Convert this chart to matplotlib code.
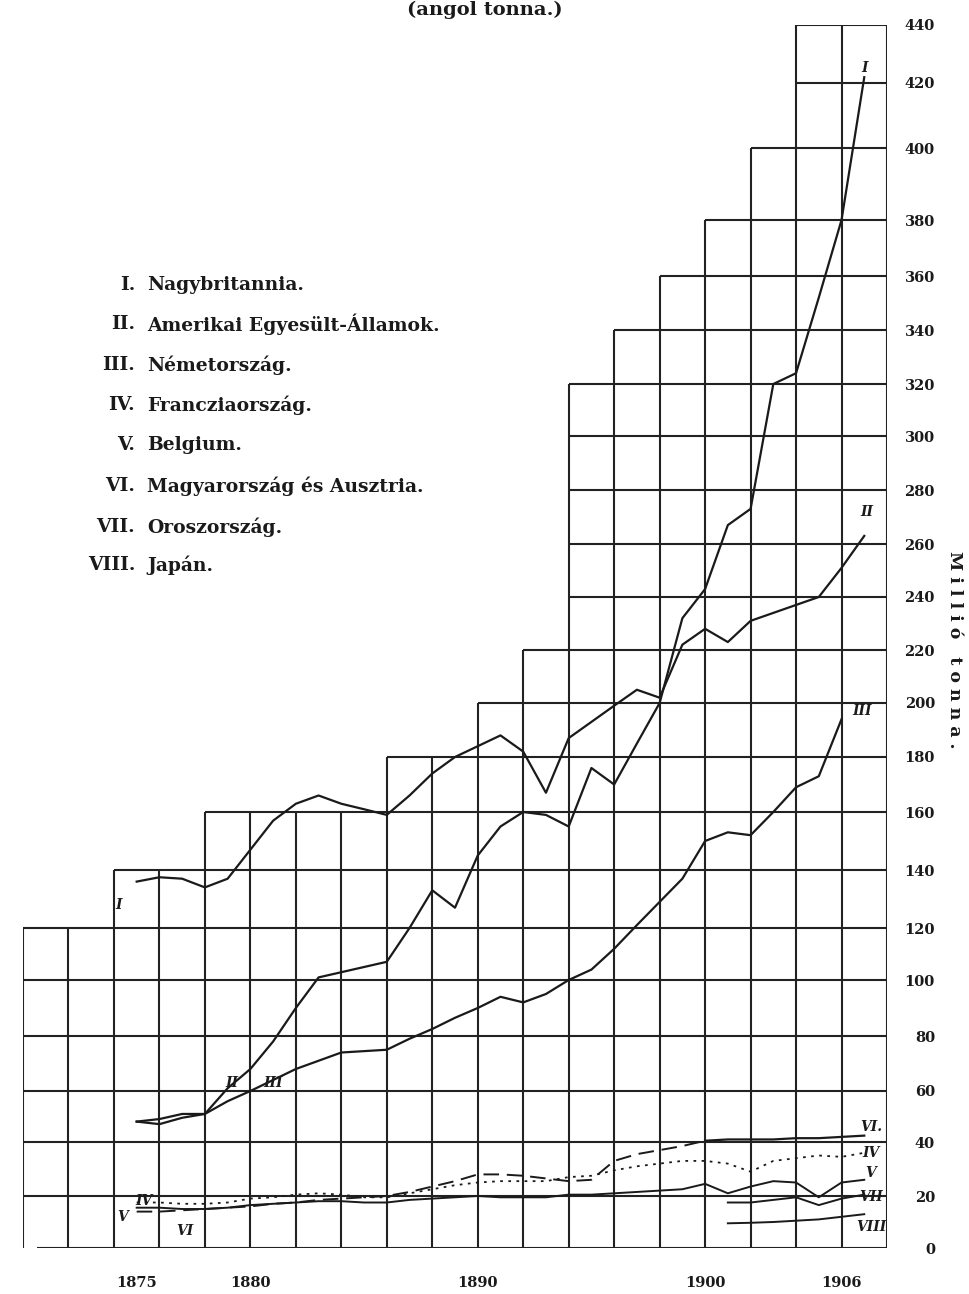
import numpy as np
import matplotlib.pyplot as plt

# coal output, million tonnes
years = list(range(1875, 1908))
britain = [136, 137.5, 137, 134, 137, 147, 157, 163, 166, 163, 161, 159, 166, 174,
           180, 184, 188, 182, 167, 187, 193, 199, 205, 202, 222, 228, 223, 231,
           234, 237, 240, 251, 263]
usa = [48, 49, 51, 51, 61, 68, 78, 90, 101, 103, 105, 107, 120, 133, 127, 145,
       155, 160, 159, 155, 176, 170, 185, 200, 232, 243, 267, 273, 320, 324, 352,
       380, 422]
germany_years = list(range(1875, 1907))
germany = [48, 47, 49.5, 51, 56, 60, 64, 68, 71, 74, 74.5, 75, 79, 82.5, 86.5, 90,
           94, 92, 95, 100, 104, 112, 121, 129, 137, 150, 153, 152, 160, 169, 173,
           194]
france = [17.5, 17.5, 17, 17, 17.5, 19, 19.5, 20.5, 21, 20.5, 19.5, 19.5, 21, 22.5,
          24, 25, 25.5, 25.5, 25.5, 27, 27.5, 29.5, 31, 32, 33, 33, 32, 29, 33, 34,
          35, 34.5, 36]
belgium = [15.5, 15.5, 15, 15, 15.5, 16.5, 17, 17.5, 18, 18, 17.5, 17.5, 18.5, 19,
           19.5, 20, 19.5, 19.5, 19.5, 20.5, 20.5, 21, 21.5, 22, 22.5, 24.5, 21,
           23.5, 25.5, 25, 19.5, 25, 26]
austria = [14, 14, 14.5, 15, 15.5, 16, 17, 17.5, 18.5, 19, 19.5, 20, 21.5, 23.5,
           25.5, 28, 28, 27.5, 26.5, 25.5, 26, 33, 35.5, 37, 38.5, 40.5, 41, 41, 41,
           41.5, 41.5, 42, 42.5]
late_years = list(range(1901, 1908))
russia = [17.5, 17.5, 18.5, 19.5, 16.5, 19, 20.5]
japan = [9.5, 9.7, 10, 10.5, 11, 12, 13]

legend_nums = ["I.", "II.", "III.", "IV.", "V.", "VI.", "VII.", "VIII."]
legend_names = ["Nagybritannia.", "Amerikai Egyesült-Államok.", "Németország.",
                "Francziaország.", "Belgium.", "Magyarország és Ausztria.",
                "Oroszország.", "Japán."]

# stepped grid: top of each vertical rule
grid_years = list(range(1870, 1909, 2))
grid_tops = [120, 120, 140, 140, 160, 160, 160, 160, 180, 180, 200, 220, 320, 340,
             360, 380, 400, 440, 440, 440]
levels = list(range(0, 441, 20))
x_ticks = [1875, 1880, 1890, 1900, 1906]

# the hand-ruled scale is not quite even: pixel height of each 20-step rule
rule_px = [0, 52, 106, 157, 212, 268, 320, 378, 436, 491, 545, 598, 651, 704,
           758, 812, 864, 918, 972, 1028, 1100, 1165, 1223]


def fwd(v):
    v = np.asarray(v, dtype=float)
    lv = np.r_[-440, levels, 880]
    lp = np.r_[-1223, rule_px, 2446]
    return np.interp(v, lv, lp)


def inv(p):
    p = np.asarray(p, dtype=float)
    lv = np.r_[-440, levels, 880]
    lp = np.r_[-1223, rule_px, 2446]
    return np.interp(p, lp, lv)


serif = "DejaVu Serif"
ink = "#1a1a1a"

W, H = 970, 1294
fig = plt.figure(figsize=(W / 100, H / 100), dpi=100)
ax = fig.add_axes([23 / W, (H - 1248) / H, 864 / W, 1223 / H])
ax.set_yscale("function", functions=(fwd, inv))
ax.set_xlim(1870, 1908)
ax.set_ylim(0, 440)
for s in ax.spines.values():
    s.set_visible(False)

# staircase grid
ax.vlines(grid_years, 0, grid_tops, color="#222222", lw=1.5, zorder=1)
starts = [min(y for y, t in zip(grid_years, grid_tops) if t >= v) for v in levels]
starts[0] = 1870.6
ax.hlines(levels, starts, 1908, color="#222222", lw=1.5, zorder=1)

# main series
ax.plot(years, britain, color=ink, lw=1.6, zorder=3)
ax.plot(years, usa, color=ink, lw=1.6, zorder=3)
ax.plot(germany_years, germany, color=ink, lw=1.6, zorder=3)

# small producers
ax.plot(years, france, color=ink, lw=1.3, ls=(0, (1.5, 3)), zorder=3)
ax.plot(years, belgium, color=ink, lw=1.4, zorder=3)
ax.plot(years[:26], austria[:26], color=ink, lw=1.4, ls=(0, (8, 4)), zorder=3)
ax.plot(years[25:], austria[25:], color=ink, lw=1.6, zorder=3)
ax.plot(late_years, russia, color=ink, lw=1.4, zorder=3)
ax.plot(late_years, japan, color=ink, lw=1.4, zorder=3)

# curve labels
lab = dict(fontfamily=serif, fontstyle="italic", fontweight="bold", fontsize=10,
           color=ink, ha="center", va="center", clip_on=False, zorder=4)
ax.text(1874.2, 128, "I", **lab)
ax.text(1907.0, 425, "I", **lab)
ax.text(1879.2, 63, "II", **lab)
ax.text(1907.1, 272, "II", **lab)
ax.text(1881.0, 63, "III", **lab)
ax.text(1906.9, 197, "III", **lab)
ax.text(1875.3, 18, "IV", **lab)
ax.text(1874.4, 12, "V", **lab)
ax.text(1877.1, 6.5, "VI", **lab)
ax.text(1907.3, 46, "VI.", **lab)
ax.text(1907.3, 36, "IV", **lab)
ax.text(1907.3, 28.5, "V", **lab)
ax.text(1907.3, 19.5, "VII", **lab)
ax.text(1907.3, 8, "VIII", **lab)

# axis labels
ax.set_yticks(levels)
ax.yaxis.tick_right()
ax.tick_params(axis="y", length=0, pad=34.5)
for t in ax.get_yticklabels():
    t.set_horizontalalignment("right")
    t.set_fontfamily(serif)
    t.set_fontweight("bold")
    t.set_fontsize(10.5)
    t.set_color(ink)
ax.set_xticks(x_ticks)
ax.tick_params(axis="x", length=0, pad=20)
for t in ax.get_xticklabels():
    t.set_fontfamily(serif)
    t.set_fontweight("bold")
    t.set_fontsize(10.5)
    t.set_color(ink)

fig.text(955 / W, 1 - 650 / H, "M i l l i ó   t o n n a .", rotation=270,
         ha="center", va="center", fontfamily=serif, fontweight="bold",
         fontsize=12.5, color=ink)

# legend block
row_y = [285, 324, 365, 405, 445, 486, 527, 565]
for num, name, y in zip(legend_nums, legend_names, row_y):
    fig.text(135 / W, 1 - y / H, num, ha="right", va="center", fontfamily=serif,
             fontweight="bold", fontsize=13.5, color=ink)
    fig.text(147 / W, 1 - y / H, name, ha="left", va="center", fontfamily=serif,
             fontweight="bold", fontsize=13.5, color=ink)

# heading
fig.text(485 / W, 1 - 1 / H, "(angol tonna.)", ha="center", va="top",
         fontfamily=serif, fontweight="bold", fontsize=14, color=ink)

fig.savefig("out.png", dpi=100, facecolor="white")
